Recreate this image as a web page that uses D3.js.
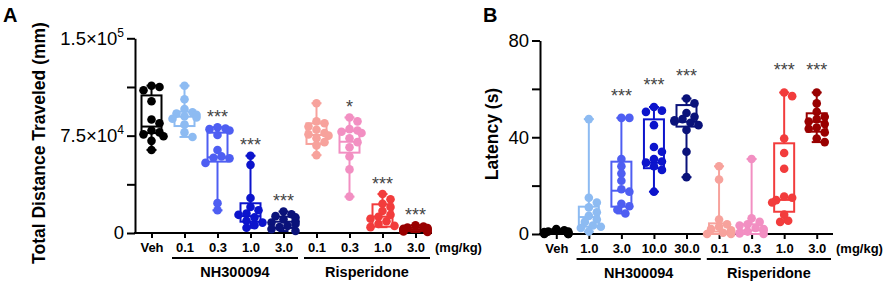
<!DOCTYPE html>
<html>
<head>
<meta charset="utf-8">
<script src="https://cdn.jsdelivr.net/npm/d3@7"></script>
<style>
  body { margin: 0; background: #fff; }
  svg text { font-family: "Liberation Sans", Arial, sans-serif; }
</style>
</head>
<body>
<div id="chart"></div>
<script>
// tick labels and groups
var labelsA = ["Veh", "0.1", "0.3", "1.0", "3.0", "0.1", "0.3", "1.0", "3.0"];
var labelsB = ["Veh", "1.0", "3.0", "10.0", "30.0", "0.1", "0.3", "1.0", "3.0"];
var groupNames = ["NH300094", "Risperidone"];
var colors = ["#000000", "#8dbbf2", "#4e5ef2", "#0c14cc", "#0a127a",
              "#f7a29c", "#f28fc2", "#f23c3c", "#990000"];

// panel A: total distance traveled (mm)
var distVeh   = [113500, 112500, 110000, 101500, 87500, 84500, 79000, 77500, 76000, 74500, 71000, 64000];
var distNH01  = [113500, 103000, 95500, 93000, 92000, 91000, 90000, 89000, 88000, 83500, 77500, 74000];
var distNH03  = [81500, 80500, 80000, 79000, 75500, 64000, 59000, 58000, 57500, 54000, 23000, 17500];
var distNH10  = [59500, 52500, 27000, 20000, 17500, 15000, 14000, 12000, 9500, 8000, 6000, 4000];
var distNH30  = [16500, 14500, 13000, 12000, 10500, 9000, 8000, 7000, 5500, 4500, 3000, 1500];
var distR01   = [100000, 86000, 84500, 82000, 79500, 77000, 76000, 75000, 73000, 70000, 67500, 60000];
var distR03   = [89000, 86000, 80000, 79000, 78000, 77000, 73000, 70000, 66000, 59000, 49000, 28000];
var distR10   = [30000, 26000, 22500, 20000, 17000, 14000, 12500, 11000, 9000, 7000, 5500, 4500];
var distR30   = [6000, 5000, 4200, 3800, 3300, 3000, 2700, 2300, 2000, 1600, 1200, 800];
var q1A  = [77000, 82400, 55000, 8700, 3900, 68600, 61900, 4900, 1500];
var medA = [82000, 89600, 58300, 13000, 8700, 75500, 70300, 12600, 2800];
var q3A  = [106000, 93500, 77300, 22900, 12600, 84500, 78600, 22100, 4000];
var sigA = ["", "", "***", "***", "***", "", "*", "***", "***"];

// panel B: latency (s)
var latVeh  = [2, 1.5, 1, 1, 0.8, 0.5, 0.5, 0.3, 0.2, 0, 0, 0];
var latNH1  = [47.5, 15, 13, 11, 9, 7.5, 6, 5, 3.5, 3, 2.5, 1];
var latNH3  = [48, 48, 31, 28, 25, 22, 18.5, 17.5, 12.5, 11.5, 10, 8.5];
var latNH10 = [52.5, 51, 50.5, 45, 36, 34, 31, 30, 29.5, 28, 26.5, 17.5];
var latNH30 = [56, 54, 50, 48.5, 47.5, 47, 46.5, 46, 45, 43, 34, 23.5];
var latR01  = [28, 22.5, 6, 4, 3, 2, 1.5, 1, 0.5, 0.3, 0, 0];
var latR03  = [31, 6.5, 5, 4, 3.5, 2.5, 2, 1.5, 1, 0.5, 0.2, 0];
var latR10  = [58.5, 57, 39.5, 33.5, 27, 15.5, 15, 14, 13, 8, 5.5, 5];
var latR30  = [58.5, 54, 50.5, 48.5, 47.5, 46.5, 45.5, 44, 43.5, 42, 39.5, 38];
var q1B  = [0, 3, 11.3, 27.2, 44.4, 0, 0, 9.2, 42.3];
var medB = [0.5, 7, 17.9, 29.5, 46.4, 1, 1.5, 14.1, 46.4];
var q3B  = [1.2, 11.3, 29.9, 47.4, 53.3, 4.4, 4, 37.5, 49.9];
var sigB = ["", "", "***", "***", "***", "", "", "***", "***"];

var W = 886, H = 282;
var svg = d3.select("#chart").append("svg").attr("width", W).attr("height", H);

// spread points sideways so they don't sit on top of each other
function beeswarm(vals, y, r, maxOff) {
  var placed = [];
  var order = vals.map(function(v, i) { return i; })
    .sort(function(a, b) { return vals[b] - vals[a]; });
  var off = new Array(vals.length);
  order.forEach(function(i, n) {
    var py = y(vals[i]);
    var cands = [0];
    for (var k = 1; k * 4 <= maxOff; k++) { cands.push(k * 4, -k * 4); }
    var best = cands[cands.length - 1 - (n % 2)];
    for (var c = 0; c < cands.length; c++) {
      var ok = placed.every(function(p) {
        var dx = p.x - cands[c], dy = p.y - py;
        return dx * dx + dy * dy >= (r * 1.6) * (r * 1.6);
      });
      if (ok) { best = cands[c]; break; }
    }
    placed.push({x: best, y: py});
    off[i] = best;
  });
  return off;
}

function panel(opt) {
  var x = d3.scalePoint().domain(d3.range(9)).range([opt.x0, opt.x1]).padding(0.5);
  var y = d3.scaleLinear().domain(opt.domain).range([opt.y0, opt.y1]);
  var g = svg.append("g");

  // y axis
  var ya = g.append("g")
      .attr("transform", "translate(" + opt.x0 + ",0)")
      .call(d3.axisLeft(y).tickValues(opt.ticks).tickSize(8).tickPadding(3).tickSizeOuter(0)
        .tickFormat(function() { return ""; }));
  ya.selectAll("path, line").attr("stroke", "#000").attr("stroke-width", 2);
  ya.selectAll(".tick text").each(function(d, i) {
    var t = d3.select(this).attr("font-size", 18.5).attr("fill", "#000");
    var lab = opt.tickLabels[i];
    if (!lab) return;
    t.append("tspan").text(lab[0]);
    if (lab[1]) t.append("tspan").attr("font-size", 12).attr("dy", -8).text(lab[1]);
  });

  // x axis
  var xa = g.append("g")
      .attr("transform", "translate(0," + opt.y0 + ")")
      .call(d3.axisBottom(x).tickSize(5).tickPadding(5).tickSizeOuter(0)
        .tickFormat(function(i) { return opt.labels[i]; }));
  xa.select(".domain").attr("d", "M" + (opt.x0 - 1) + ",0H" + opt.x1);
  xa.selectAll("path, line").attr("stroke", "#000").attr("stroke-width", 2);
  xa.selectAll("text").attr("font-size", 13).attr("font-weight", "bold").attr("fill", "#000");

  g.append("text").attr("x", opt.x1 + 3).attr("y", opt.y0 + 19)
      .attr("font-size", 13).attr("font-weight", "bold").text("(mg/kg)");

  // group brackets
  [[1, 4], [5, 8]].forEach(function(s, k) {
    var a = x(s[0]) - x.step() / 2 + 4, b = x(s[1]) + x.step() / 2 - 2;
    g.append("line").attr("x1", a).attr("x2", b)
        .attr("y1", opt.y0 + 25).attr("y2", opt.y0 + 25)
        .attr("stroke", "#000").attr("stroke-width", 2);
    g.append("text").attr("x", (a + b) / 2).attr("y", opt.y0 + 44)
        .attr("text-anchor", "middle").attr("font-size", 14.5).attr("font-weight", "bold")
        .text(groupNames[k]);
  });

  // boxes, whiskers (min to max) and points
  opt.data.forEach(function(vals, i) {
    var cx = x(i), col = colors[i];
    var lo = d3.min(vals), hi = d3.max(vals);
    var bw = 10, cw = 5;
    var bg = g.append("g").attr("stroke", col).attr("stroke-width", 2).attr("fill", "none");
    bg.append("line").attr("x1", cx).attr("x2", cx).attr("y1", y(hi)).attr("y2", y(opt.q3[i]));
    bg.append("line").attr("x1", cx).attr("x2", cx).attr("y1", y(opt.q1[i])).attr("y2", y(lo));
    bg.append("line").attr("x1", cx - cw).attr("x2", cx + cw).attr("y1", y(hi)).attr("y2", y(hi));
    bg.append("line").attr("x1", cx - cw).attr("x2", cx + cw).attr("y1", y(lo)).attr("y2", y(lo));
    bg.append("rect").attr("x", cx - bw).attr("width", bw * 2)
        .attr("y", y(opt.q3[i])).attr("height", Math.max(0.5, y(opt.q1[i]) - y(opt.q3[i])));
    bg.append("line").attr("x1", cx - bw).attr("x2", cx + bw)
        .attr("y1", y(opt.med[i])).attr("y2", y(opt.med[i]));

    var off = beeswarm(vals, y, 4.3, 12);
    g.append("g").selectAll("circle").data(vals).enter().append("circle")
        .attr("cx", function(d, j) { return cx + off[j]; })
        .attr("cy", function(d) { return y(d); })
        .attr("r", 4.3)
        .attr("fill", col);

    if (opt.sig[i]) {
      g.append("text").attr("x", cx).attr("y", y(hi + opt.sigOff) + 8)
          .attr("text-anchor", "middle").attr("font-size", 18).attr("fill", "#444")
          .text(opt.sig[i]);
    }
  });

  // y label and panel letter
  g.append("text")
      .attr("transform", "translate(" + opt.labX + "," + opt.labY + ") rotate(-90)")
      .attr("text-anchor", "middle").attr("font-size", 17.5).attr("font-weight", "bold")
      .text(opt.yLabel);
  g.append("text").attr("x", opt.letterX).attr("y", 22)
      .attr("font-size", 20).attr("font-weight", "bold").text(opt.letter);
}

panel({
  x0: 135, x1: 432, y0: 233, y1: 38.3, domain: [0, 150000],
  ticks: [0, 37500, 75000, 112500, 150000],
  tickLabels: [["0"], null, ["7.5\u00d710", "4"], null, ["1.5\u00d710", "5"]],
  labels: labelsA,
  data: [distVeh, distNH01, distNH03, distNH10, distNH30, distR01, distR03, distR10, distR30],
  q1: q1A, med: medA, q3: q3A, sig: sigA, sigOff: 9500,
  yLabel: "Total Distance Traveled (mm)", labX: 45, labY: 143,
  letter: "A", letterX: 3
});

panel({
  x0: 540, x1: 833, y0: 234, y1: 40.5, domain: [0, 80],
  ticks: [0, 20, 40, 60, 80],
  tickLabels: [["0"], null, ["40"], null, ["80"]],
  labels: labelsB,
  data: [latVeh, latNH1, latNH3, latNH10, latNH30, latR01, latR03, latR10, latR30],
  q1: q1B, med: medB, q3: q3B, sig: sigB, sigOff: 10,
  yLabel: "Latency (s)", labX: 498, labY: 134,
  letter: "B", letterX: 483
});
</script>
</body>
</html>
